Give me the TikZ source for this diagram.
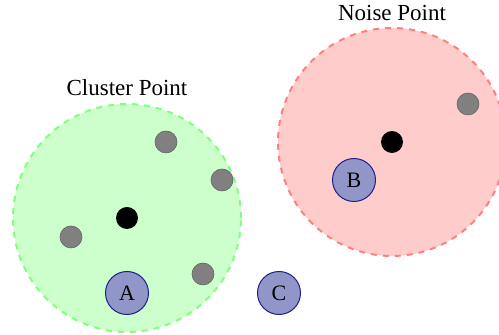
\documentclass[tikz,border=0pt]{standalone}
\usepackage{fontspec}
\setmainfont{Liberation Serif}
\usepackage{tikz}
\usepackage{xcolor}
\definecolor{ptfill}{RGB}{145,150,200}
\definecolor{ptline}{RGB}{30,30,140}

\begin{document}
\begin{tikzpicture}[x=0.5pt, y=-0.5pt,
  region/.style={circle, dashed, line width=1pt, minimum size=228pt*0.5, inner sep=0pt},
  core/.style={circle, fill=black, minimum size=11pt, inner sep=0pt},
  neighbour/.style={circle, fill=gray, draw=gray!80!black, line width=0.3pt, minimum size=11pt, inner sep=0pt},
  sample/.style={circle, fill=ptfill, draw=ptline, line width=0.5pt, minimum size=21.5pt, inner sep=0pt, font=\fontsize{11}{13}\selectfont},
  title/.style={font=\fontsize{11.5}{14}\selectfont}]
  \useasboundingbox (0,0) rectangle (499,335);
  \node[region, fill=green!20, draw=green!50] (cluster) at (127,218) {}; % cluster region
  \node[region, fill=red!20, draw=red!50] (noise) at (392,142) {}; % noise region
  \node[title] (clusterlabel) at (127,88) {Cluster Point};
  \node[title] (noiselabel) at (392,13) {Noise Point};
  \node[core] (clustercore) at (127,218) {};
  \node[core] (noisecore) at (392,142) {};
  \node[neighbour] (n1) at (166,142) {};
  \node[neighbour] (n2) at (222,180) {};
  \node[neighbour] (n3) at (71,237) {};
  \node[neighbour] (n4) at (203,274) {};
  \node[neighbour] (n5) at (468,104) {};
  \node[sample] (a) at (127,293) {A};
  \node[sample] (b) at (354,180) {B};
  \node[sample] (c) at (279,293) {C};
\end{tikzpicture}
\end{document}
